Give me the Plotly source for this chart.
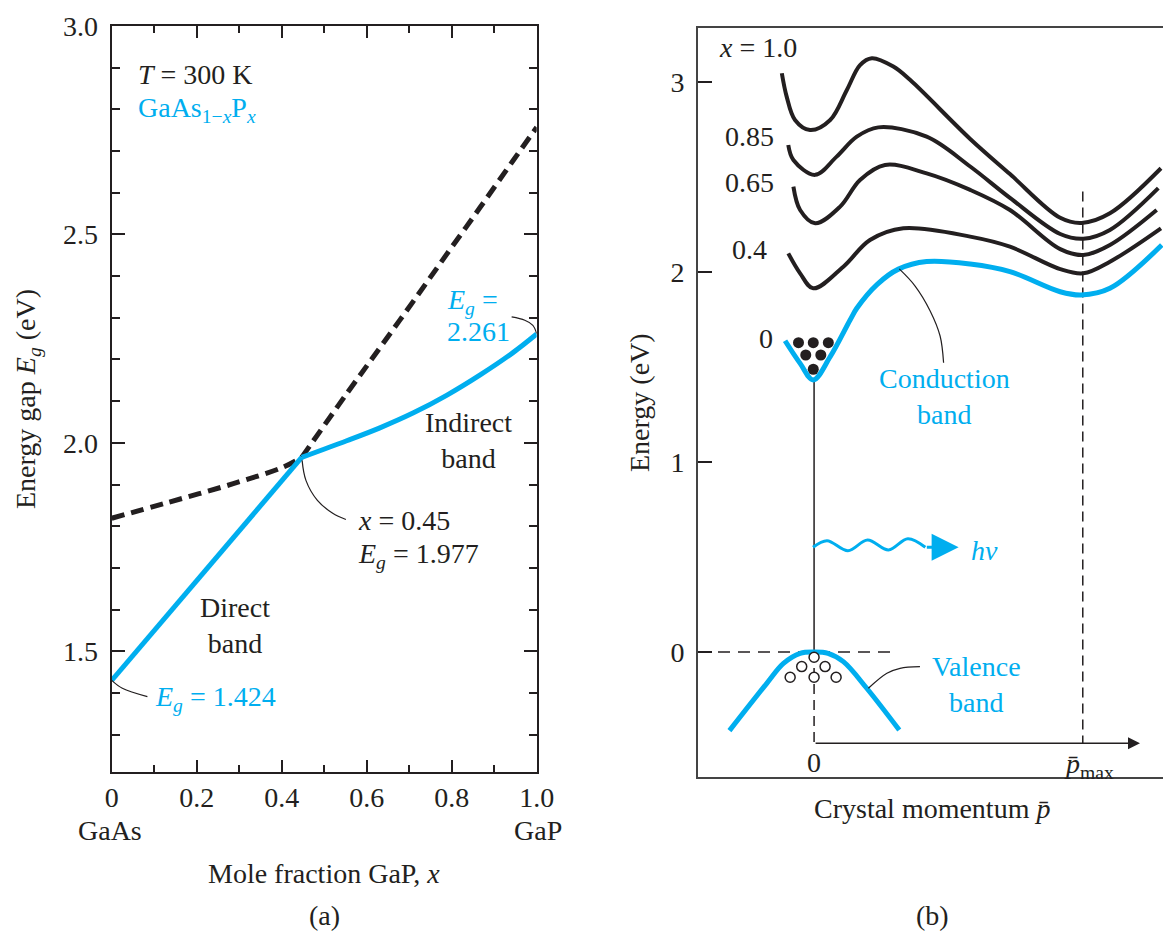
import plotly.graph_objects as go

OFF = 8                      # page body margin of the exported html
FW, FH = 1171 - OFF, 938 - OFF
INK = "#231F20"
BLUE = "#00AEEF"
FONT = "Liberation Serif"
FS = 28

# ---------------- Panel (a): energy gap vs mole fraction ----------------
x_direct = [0.0, 0.447]
eg_direct = [1.43, 1.965]
x_indirect = [0.447, 0.553, 0.631, 0.710, 0.788, 0.867, 0.945, 1.0]
eg_indirect = [1.965, 2.005, 2.036, 2.072, 2.114, 2.163, 2.217, 2.261]
x_dash_left = [0.0, 0.129, 0.286, 0.404, 0.447]
eg_dash_left = [1.819, 1.856, 1.902, 1.942, 1.965]
x_dash_right = [0.447, 0.553, 0.631, 0.710, 0.788, 0.867, 0.945, 1.0]
eg_dash_right = [1.965, 2.118, 2.228, 2.340, 2.452, 2.565, 2.678, 2.757]

xtick_vals = [0, 0.2, 0.4, 0.6, 0.8, 1.0]
xtick_text = ["0", "0.2", "0.4", "0.6", "0.8", "1.0"]
xend_labels = ["GaAs", "GaP"]
xminor_vals = [0.1, 0.3, 0.5, 0.7, 0.9]
ytick_vals = [1.5, 2.0, 2.5, 3.0]
ytick_text = ["1.5", "2.0", "2.5", "3.0"]
yminor_vals = [1.3, 1.4, 1.6, 1.7, 1.8, 1.9, 2.1, 2.2, 2.3, 2.4, 2.6, 2.7, 2.8, 2.9]

lead_2261_x = [0.941, 0.972, 0.991, 1.0]
lead_2261_e = [2.302, 2.294, 2.282, 2.262]
lead_045_x = [0.448, 0.457, 0.484, 0.52, 0.551]
lead_045_e = [1.958, 1.910, 1.862, 1.831, 1.816]
lead_1424_x = [0.0, 0.025, 0.084]
lead_1424_e = [1.43, 1.411, 1.391]

# ---------------- Panel (b): band diagram ----------------
p_x10 = [-0.120, -0.102, -0.071, -0.015, 0.060, 0.122, 0.171, 0.215, 0.295, 0.357, 0.581, 0.729, 0.916, 0.996, 1.101, 1.291]
e_x10 = [3.046, 2.923, 2.800, 2.747, 2.800, 2.958, 3.089, 3.125, 3.081, 3.011, 2.700, 2.515, 2.285, 2.258, 2.309, 2.546]
p_x085 = [-0.096, -0.077, 0.004, 0.084, 0.159, 0.239, 0.419, 0.581, 0.729, 0.916, 1.002, 1.101, 1.281]
e_x085 = [2.668, 2.589, 2.511, 2.607, 2.712, 2.761, 2.712, 2.555, 2.390, 2.200, 2.175, 2.221, 2.441]
p_x065 = [-0.077, -0.052, 0.004, 0.097, 0.171, 0.264, 0.419, 0.581, 0.729, 0.916, 1.002, 1.101, 1.275]
e_x065 = [2.449, 2.326, 2.256, 2.344, 2.484, 2.563, 2.519, 2.432, 2.326, 2.120, 2.089, 2.142, 2.326]
p_x04 = [-0.096, -0.052, -0.003, 0.109, 0.208, 0.332, 0.581, 0.729, 0.916, 1.002, 1.101, 1.291]
e_x04 = [2.098, 1.993, 1.914, 2.028, 2.168, 2.230, 2.186, 2.133, 2.015, 1.993, 2.054, 2.230]
p_x0 = [-0.108, -0.052, -0.003, 0.060, 0.134, 0.159, 0.235, 0.314, 0.419, 0.581, 0.729, 0.916, 0.994, 1.101, 1.294]
e_x0 = [1.638, 1.519, 1.432, 1.554, 1.747, 1.809, 1.935, 2.015, 2.055, 2.042, 2.002, 1.896, 1.879, 1.914, 2.142]

p_val = [-0.315, -0.176, -0.114, -0.052, 0.0, 0.052, 0.109, 0.196, 0.317]
e_val = [-0.414, -0.165, -0.060, -0.007, 0.0, -0.007, -0.051, -0.191, -0.411]

p_electrons = [-0.058, -0.003, 0.053, -0.031, 0.025, -0.003]
e_electrons = [1.628, 1.628, 1.628, 1.563, 1.563, 1.488]
p_holes = [0.0, -0.046, 0.041, -0.089, 0.0, 0.082]
e_holes = [-0.028, -0.077, -0.077, -0.133, -0.133, -0.133]

p_photon = [-0.004, 0.048, 0.126, 0.199, 0.277, 0.349, 0.414]
e_photon = [0.551, 0.586, 0.533, 0.589, 0.537, 0.596, 0.551]
photon_tip = 0.538

p_lead_cond = [0.317, 0.376, 0.432, 0.469, 0.482]
e_lead_cond = [2.016, 1.926, 1.795, 1.663, 1.522]
p_lead_val = [0.202, 0.271, 0.320, 0.394]
e_lead_val = [-0.191, -0.112, -0.086, -0.077]

p_transition = [0.0, 0.0]
e_transition = [0.0, 1.432]
p_zero_down = [0.0, 0.0]
e_zero_down = [0.0, -0.481]
p_zero_level = [-0.432, 0.283]
e_zero_level = [0.0, 0.0]
p_pmax_line = [1.0, 1.0]
e_pmax_line = [2.423, -0.481]
p_axis_end = 1.213
e_axis_level = -0.481

ytick2_vals = [0, 1, 2, 3]


def X(px):
    """page pixel (reference) -> paper x"""
    return (px - OFF) / FW


def Y(py):
    """page pixel (reference) -> paper y"""
    return 1 - (py - OFF) / FH


fig = go.Figure()


def line(x, y, color, width, dash="solid", shape="linear", xa="x", ya="y"):
    fig.add_trace(go.Scatter(x=x, y=y, mode="lines", xaxis=xa, yaxis=ya,
                             line=dict(color=color, width=width, dash=dash, shape=shape),
                             hoverinfo="skip", showlegend=False))


# panel (a)
line(x_dash_left, eg_dash_left, INK, 5, dash="13px,7px", shape="spline")
line(x_dash_right, eg_dash_right, INK, 5, dash="13px,7px", shape="spline")
line(x_direct, eg_direct, BLUE, 5)
line(x_indirect, eg_indirect, BLUE, 5, shape="spline")
line(lead_2261_x, lead_2261_e, INK, 1.2, shape="spline")
line(lead_045_x, lead_045_e, INK, 1.2, shape="spline")
line(lead_1424_x, lead_1424_e, INK, 1.2, shape="spline")

# panel (b)
line(p_transition, e_transition, INK, 1.5, xa="x2", ya="y2")
line(p_zero_down, e_zero_down, INK, 1.5, dash="10px,6px", xa="x2", ya="y2")
line(p_zero_level, e_zero_level, INK, 1.5, dash="12px,8px", xa="x2", ya="y2")
line(p_pmax_line, e_pmax_line, INK, 1.5, dash="10px,6px", xa="x2", ya="y2")
for pp, ee in [(p_x10, e_x10), (p_x085, e_x085), (p_x065, e_x065), (p_x04, e_x04)]:
    line(pp, ee, INK, 4, shape="spline", xa="x2", ya="y2")
line(p_x0, e_x0, BLUE, 5, shape="spline", xa="x2", ya="y2")
line(p_val, e_val, BLUE, 5, shape="spline", xa="x2", ya="y2")
line(p_lead_cond, e_lead_cond, INK, 1.2, shape="spline", xa="x2", ya="y2")
line(p_lead_val, e_lead_val, INK, 1.2, shape="spline", xa="x2", ya="y2")
line(p_photon, e_photon, BLUE, 3, shape="spline", xa="x2", ya="y2")

fig.add_trace(go.Scatter(x=p_electrons, y=e_electrons, mode="markers", xaxis="x2", yaxis="y2",
                         marker=dict(size=11, color=INK, line=dict(width=0)),
                         hoverinfo="skip", showlegend=False))
fig.add_trace(go.Scatter(x=p_holes, y=e_holes, mode="markers", xaxis="x2", yaxis="y2",
                         marker=dict(size=10, color="white", line=dict(width=1.5, color=INK)),
                         hoverinfo="skip", showlegend=False))

ann = []


def text(t, x, y, xanchor="left", color=INK, size=FS, angle=0):
    ann.append(dict(text=t, x=X(x), y=Y(y), xref="paper", yref="paper", xanchor=xanchor,
                    yanchor="middle", showarrow=False, textangle=angle,
                    font=dict(family=FONT, size=size, color=color)))


# panel (a) text
text("<i>T</i> = 300 K", 136, 75)
text("GaAs<sub>1\u2212<i>x</i></sub>P<sub><i>x</i></sub>", 136, 110, color=BLUE)
text("<i>E<sub>g</sub></i> =", 445, 301, color=BLUE)
text("2.261", 445, 331, color=BLUE)
text("Indirect<br>band", 423, 440)
text("<i>x</i> = 0.45", 356, 520)
text("<i>E<sub>g</sub></i> = 1.977", 356, 555)
text("Direct<br>band", 198, 625)
text("<i>E<sub>g</sub></i> = 1.424", 153, 698, color=BLUE)
text(xend_labels[0], 110, 830, xanchor="center")
text(xend_labels[1], 538, 830, xanchor="center")
text("Mole fraction GaP, <i>x</i>", 324, 873, xanchor="center")
text("(a)", 324, 915, xanchor="center")
text("Energy gap <i>E<sub>g</sub></i> (eV)", 27, 399, xanchor="center", angle=-90)

# panel (b) text
text("<i>x</i> = 1.0", 799, 48, xanchor="right")
text("0.85", 776, 137, xanchor="right")
text("0.65", 776, 182, xanchor="right")
text("0.4", 769, 249, xanchor="right")
text("0", 775, 338, xanchor="right")
text("Conduction<br>band", 944, 396, xanchor="center", color=BLUE)
text("<i>h\u03bd</i>", 969, 550, color=BLUE)
text("Valence<br>band", 930, 684, color=BLUE)
text("0", 814, 762, xanchor="center")
text("<i>p\u0304</i><sub>max</sub>", 1062, 765)
text("Crystal momentum <i>p\u0304</i>", 932, 808, xanchor="center")
text("(b)", 932, 915, xanchor="center")
text("Energy (eV)", 639, 403, xanchor="center", angle=-90)

# arrows (photon head, momentum axis)
ann.append(dict(x=photon_tip, y=e_photon[-1], ax=p_photon[-1], ay=e_photon[-1],
                xref="x2", yref="y2", axref="x2", ayref="y2", text="", showarrow=True,
                arrowhead=2, arrowsize=1.8, arrowwidth=3, arrowcolor=BLUE))
ann.append(dict(x=p_axis_end, y=e_axis_level, ax=0.0, ay=e_axis_level,
                xref="x2", yref="y2", axref="x2", ayref="y2", text="", showarrow=True,
                arrowhead=2, arrowsize=1.6, arrowwidth=1.5, arrowcolor=INK))

tickfont = dict(family=FONT, size=FS, color=INK)

fig.update_layout(
    width=FW, height=FH, margin=dict(l=0, r=0, t=0, b=0, autoexpand=False),
    paper_bgcolor="white", plot_bgcolor="white",
    font=dict(family=FONT, size=FS, color=INK),
    showlegend=False,
    annotations=ann,
    xaxis=dict(domain=[X(111.7), X(536.7)], range=[0, 1], tickmode="array",
               tickvals=xtick_vals, ticktext=xtick_text, ticks="inside", ticklen=12,
               tickwidth=2, tickcolor=INK, showline=True, linewidth=2, linecolor=INK,
               mirror="ticks", showgrid=False, zeroline=False, ticklabelstandoff=0,
               automargin=False, tickfont=tickfont,
               minor=dict(tickmode="array", tickvals=xminor_vals, ticks="inside",
                          ticklen=7, tickwidth=2, tickcolor=INK, showgrid=False),
               anchor="y"),
    yaxis=dict(domain=[Y(771.7), Y(26)], range=[1.211, 3.0], tickmode="array",
               tickvals=ytick_vals, ticktext=ytick_text, ticks="inside", ticklen=13,
               tickwidth=2, tickcolor=INK, showline=True, linewidth=2, linecolor=INK,
               mirror="ticks", showgrid=False, zeroline=False, ticklabelstandoff=6,
               automargin=False, tickfont=tickfont,
               minor=dict(tickmode="array", tickvals=yminor_vals, ticks="inside",
                          ticklen=8, tickwidth=2, tickcolor=INK, showgrid=False),
               anchor="x"),
    xaxis2=dict(domain=[X(698), X(1165)], range=[-0.432, 1.306], showticklabels=False,
                ticks="", showline=True, linewidth=2, linecolor="#444", mirror=True,
                showgrid=False, zeroline=False, anchor="y2", automargin=False),
    yaxis2=dict(domain=[Y(777), Y(28)], range=[-0.658, 3.284], tickmode="array",
                tickvals=ytick2_vals, ticks="inside", ticklen=14, tickwidth=2, tickcolor=INK,
                showline=True, linewidth=2, linecolor="#444", mirror=True, showgrid=False,
                zeroline=False, ticklabelstandoff=6, anchor="x2", automargin=False,
                tickfont=tickfont),
)

fig.write_html("out.html")
